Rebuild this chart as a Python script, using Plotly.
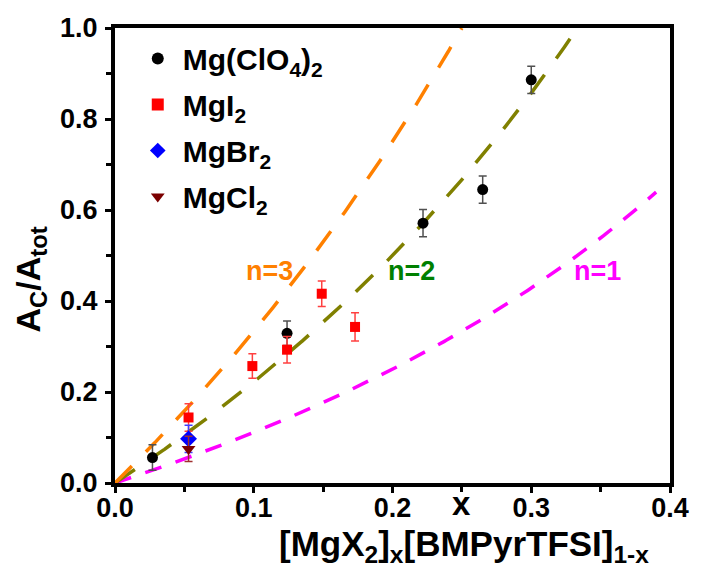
import numpy as np
import plotly.graph_objects as go

# Measured fraction A_C/A_tot versus salt mole fraction x
clo4_x = [0.027, 0.124, 0.222, 0.265, 0.300]
clo4_y = [0.056, 0.329, 0.571, 0.645, 0.886]
clo4_err = [0.028, 0.027, 0.030, 0.030, 0.030]

i2_x = [0.053, 0.099, 0.124, 0.149, 0.173]
i2_y = [0.144, 0.257, 0.293, 0.416, 0.343]
i2_err = [0.030, 0.027, 0.029, 0.028, 0.031]

br2_x = [0.053]
br2_y = [0.097]
br2_err = [0.030]

cl2_x = [0.053]
cl2_y = [0.075]
cl2_err = [0.028]

# Coordination model: A_C/A_tot = n * x / (1 - x)
n_values = [1, 2, 3]
n_xmax = [0.39, 1 / 3, 0.25]
n_colors = ["#FF00FF", "#808000", "#FF8000"]
n_dash = ["17px,15px", "24px,20px", "24px,20px"]
n_label_colors = ["#FF00FF", "#008000", "#FF8000"]
n_label_pos = [(0.348, 0.465), (0.214, 0.465), (0.111, 0.465)]

FONT = "Liberation Sans, Arial, sans-serif"

fig = go.Figure()

for n, xm, col, dash in zip(n_values, n_xmax, n_colors, n_dash):
    xs = np.linspace(0, xm, 300)
    fig.add_trace(go.Scatter(
        x=xs, y=n * xs / (1 - xs), mode="lines",
        line=dict(color=col, width=3.5, dash=dash),
        showlegend=False, hoverinfo="skip",
    ))


def series(x, y, err, name, symbol, color, size, err_color, group):
    return go.Scatter(
        x=x, y=y, mode="markers", name=name, legendgroup=group,
        marker=dict(symbol=symbol, color=color, size=size, line=dict(width=0)),
        error_y=dict(type="data", array=err, visible=True, color=err_color,
                     thickness=1.5, width=4),
    )


fig.add_trace(series(clo4_x, clo4_y, clo4_err, "Mg(ClO<sub>4</sub>)<sub>2</sub>",
                     "circle", "#000000", 11, "#505050", "a"))
fig.add_trace(series(i2_x, i2_y, i2_err, "MgI<sub>2</sub>",
                     "square", "#FF0000", 10, "#FF4040", "b"))
fig.add_trace(series(br2_x, br2_y, br2_err, "MgBr<sub>2</sub>",
                     "diamond", "#0000FF", 13, "#4040FF", "c"))
fig.add_trace(series(cl2_x, cl2_y, cl2_err, "MgCl<sub>2</sub>",
                     "triangle-down", "#7B0000", 12, "#A03030", "d"))

axis_common = dict(
    showline=True, linewidth=4, linecolor="black", mirror=True,
    ticks="outside", ticklen=6, tickwidth=3, tickcolor="black",
    showgrid=False, zeroline=False,
    tickfont=dict(family=FONT, size=27, color="black", weight="bold"),
)

fig.update_xaxes(range=[0, 0.4], dtick=0.1, tickformat=".1f",
                 ticklabelstandoff=-8,
                 minor=dict(ticks="outside", dtick=0.05, ticklen=5, tickwidth=3,
                            tickcolor="black"),
                 **axis_common)
fig.update_yaxes(range=[0, 1.0], dtick=0.2, tickformat=".1f",
                 ticklabelstandoff=2,
                 minor=dict(ticks="outside", dtick=0.1, ticklen=5, tickwidth=3,
                            tickcolor="black"),
                 **axis_common)

annotations = []
for n, (lx, ly), col in zip(n_values, n_label_pos, n_label_colors):
    annotations.append(dict(
        x=lx, y=ly, xref="x", yref="y", text=f"n={n}", showarrow=False,
        xanchor="center", yanchor="middle",
        font=dict(family=FONT, size=27, color=col, weight="bold"),
    ))

annotations += [
    dict(x=0.25, y=503, xref="x", yref="paper", text="x", showarrow=False,
         xanchor="center", yanchor="middle",
         font=dict(family=FONT, size=33, color="black", weight="bold")),
    dict(x=470, y=546, xref="paper", yref="paper",
         text="[MgX<sub>2</sub>]<sub>x</sub>[BMPyrTFSI]<sub>1-x</sub>",
         showarrow=False, xanchor="center", yanchor="middle",
         font=dict(family=FONT, size=35, color="black", weight="bold")),
    dict(x=28, y=280, xref="paper", yref="paper",
         text="A<sub>C</sub>/A<sub>tot</sub>", textangle=-90, showarrow=False,
         xanchor="center", yanchor="middle",
         font=dict(family=FONT, size=34, color="black", weight="bold")),
]

# convert pixel-placed annotations into paper coordinates
W, H = 701, 571
L, R, T, B = 115, 21, 28, 88
pw, ph = W - L - R, H - T - B
for a in annotations:
    if a["xref"] == "paper":
        a["x"] = (a["x"] - L) / pw
    if a["yref"] == "paper":
        a["y"] = (H - B - a["y"]) / ph

fig.update_layout(
    width=W, height=H,
    margin=dict(l=L, r=R, t=T, b=B),
    paper_bgcolor="white", plot_bgcolor="white",
    annotations=annotations,
    legend=dict(
        x=0.032, y=0.99, xanchor="left", yanchor="top",
        bgcolor="rgba(0,0,0,0)", borderwidth=0,
        font=dict(family=FONT, size=30, color="black", weight="bold"),
        tracegroupgap=4, itemsizing="constant", itemwidth=40,
    ),
)

fig.write_html("out.html")
